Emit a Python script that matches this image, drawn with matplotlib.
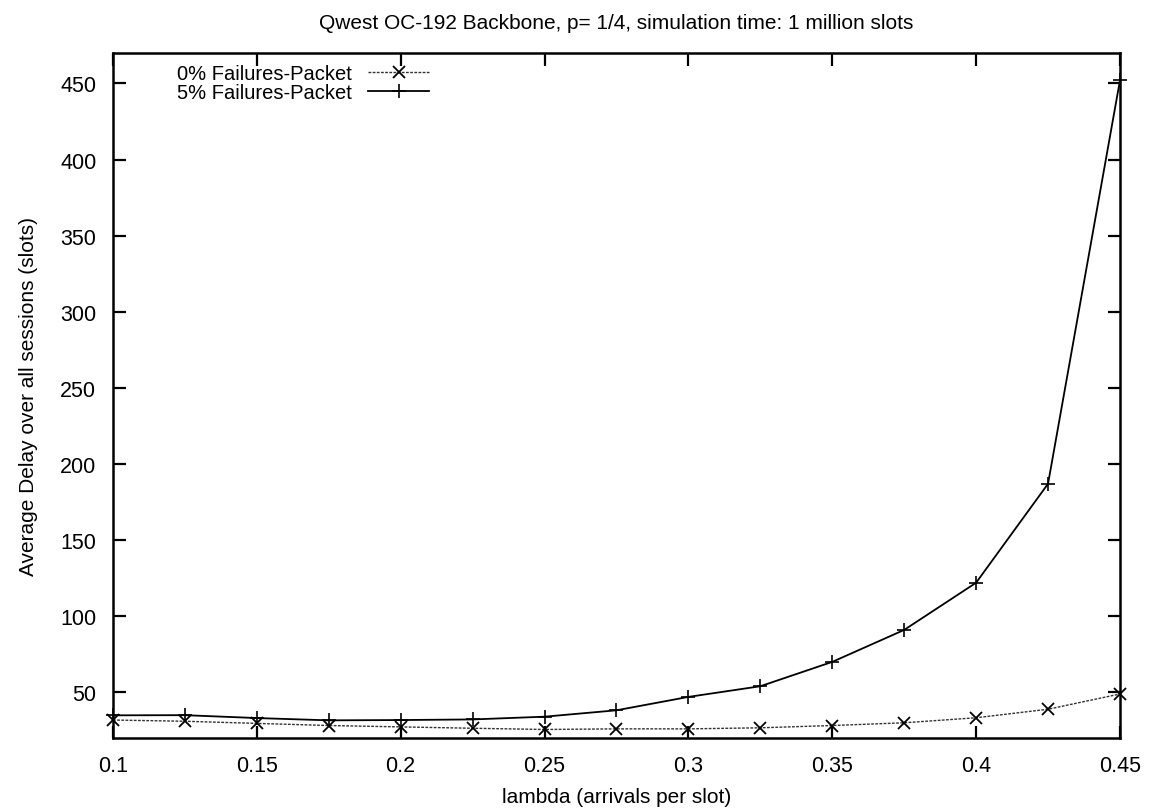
import numpy as np
import matplotlib.pyplot as plt

plt.rcParams['font.family'] = ['Liberation Sans', 'DejaVu Sans']

# data
lam = [0.1, 0.125, 0.15, 0.175, 0.2, 0.225, 0.25, 0.275, 0.3, 0.325,
       0.35, 0.375, 0.4, 0.425, 0.45]
delay_0 = [31.8, 31.0, 29.6, 28.2, 27.3, 26.4, 25.6, 26.0, 26.0, 26.7,
           28.2, 30.0, 33.3, 38.9, 48.9]
delay_5 = [34.9, 35.0, 33.1, 31.6, 31.8, 32.2, 34.0, 38.2, 47.0, 54.0,
           70.0, 91.0, 122.0, 187.0, 452.0]

xticks = [0.1, 0.15, 0.2, 0.25, 0.3, 0.35, 0.4, 0.45]
xtick_labels = ['0.1', '0.15', '0.2', '0.25', '0.3', '0.35', '0.4', '0.45']
yticks = [50, 100, 150, 200, 250, 300, 350, 400, 450]

fig = plt.figure(figsize=(11.54, 8.12), dpi=100)
ax = fig.add_axes([0.0979, 0.0899, 0.9705 - 0.0979, 0.9335 - 0.0899])

ax.plot(lam, delay_0, color='#333333', lw=1.0, linestyle=(0, (2, 1)),
        marker='x', markersize=8, markeredgewidth=1.3, markeredgecolor='black',
        label='0% Failures-Packet', clip_on=False)
ax.plot(lam, delay_5, color='black', lw=1.3,
        marker='+', markersize=10, markeredgewidth=1.2,
        label='5% Failures-Packet', clip_on=False)

ax.set_xlim(0.1, 0.45)
ax.set_ylim(20, 470)
ax.set_xticks(xticks)
ax.set_xticklabels(xtick_labels)
ax.set_yticks(yticks)
ax.tick_params(direction='in', length=9, width=1.6, top=True, right=True,
               labelsize=15.5, pad=12)
for s in ax.spines.values():
    s.set_linewidth(1.8)

ax.set_title('Qwest OC-192 Backbone, p= 1/4, simulation time: 1 million slots',
             fontsize=15, pad=18)
ax.set_xlabel('lambda (arrivals per slot)', fontsize=15, labelpad=8)
ax.set_ylabel('Average Delay over all sessions (slots)', fontsize=15, labelpad=16)

leg = ax.legend(loc='upper left', bbox_to_anchor=(0.05, 1.005), frameon=False,
                markerfirst=False, fontsize=14.5, handlelength=3.0,
                handletextpad=0.8, labelspacing=0.0, borderpad=0.2)

fig.savefig('out.png', dpi=100)
